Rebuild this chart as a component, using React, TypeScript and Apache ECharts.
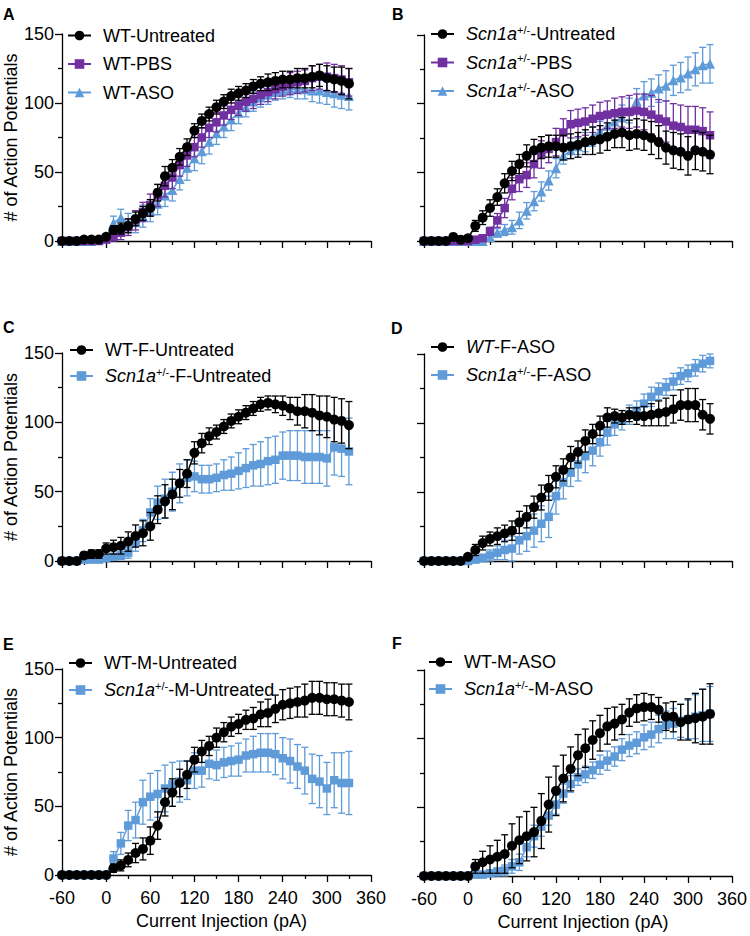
import React, { useEffect, useRef } from 'react';
import * as echarts from 'echarts';

// ---------- data ----------
const currents = [-60, -50, -40, -30, -20, -10, 0, 10, 20, 30, 40, 50, 60, 70, 80, 90, 100, 110, 120, 130, 140, 150, 160, 170, 180, 190, 200, 210, 220, 230, 240, 250, 260, 270, 280, 290, 300, 310, 320, 330];

// Panel A
const aWTUntreated = [0, 0, 0, 1, 1, 1, 3, 8, 9, 11, 16, 20, 24, 35, 47, 53, 61, 68, 80, 87, 92, 97, 101, 105, 107, 109, 112, 114, 115, 116, 117, 117, 118, 118, 119, 120, 118, 117, 116, 114];
const aWTUntreatedErr = [0, 0, 0, 0.5, 0.5, 1, 1, 3, 4, 5, 5, 5, 6, 6, 7, 6, 6, 6, 5, 5, 5, 5, 5, 5, 5, 5, 5, 5, 6, 6, 6, 6, 7, 7, 8, 8, 9, 9, 10, 11];
const aWTPBS = [0, 0, 0, 0, 0, 0, 1, 3, 6, 10, 15, 21, 26, 33, 40, 46, 55, 62, 68, 75, 82, 86, 91, 95, 98, 101, 103, 106, 108, 110, 112, 114, 115, 116, 118, 119, 119, 118, 117, 115];
const aWTPBSErr = [0, 0, 0, 0, 0, 0, 2, 3, 5, 6, 7, 7, 8, 8, 8, 8, 8, 8, 7, 7, 7, 7, 7, 7, 7, 7, 7, 7, 7, 7, 7, 8, 8, 8, 9, 9, 10, 10, 10, 10];
const aWTASO = [0, 0, 0, 0, 0, 1, 3, 13, 17, 13, 14, 18, 22, 27, 33, 37, 45, 53, 60, 65, 72, 78, 83, 88, 93, 97, 101, 104, 106, 108, 109, 110, 110, 110, 109, 109, 108, 107, 106, 105];
const aWTASOErr = [0, 0, 0, 0, 0, 1, 2, 5, 6, 7, 8, 8, 8, 8, 8, 8, 8, 9, 9, 9, 9, 8, 8, 8, 8, 7, 7, 7, 7, 6, 6, 6, 7, 7, 8, 9, 9, 10, 10, 10];

// Panel B
const bHetUntreated = [0, 0, 0, 0, 3, 1, 2, 11, 17, 24, 32, 42, 51, 56, 62, 66, 68, 69, 69, 68, 69, 70, 72, 73, 74, 76, 78, 79, 77, 78, 77, 75, 72, 68, 66, 65, 62, 66, 65, 63];
const bHetUntreatedErr = [0, 0, 0, 0, 2, 1, 2, 4, 5, 6, 6, 7, 7, 7, 8, 8, 8, 8, 8, 9, 9, 9, 9, 10, 10, 10, 10, 11, 11, 11, 11, 12, 12, 12, 13, 13, 14, 14, 14, 14];
const bHetPBS = [0, 0, 0, 0, 0, 0, 0, 1, 2, 7, 15, 24, 38, 45, 48, 56, 63, 67, 72, 79, 85, 86, 87, 89, 91, 92, 93, 94, 94, 95, 94, 92, 89, 87, 84, 83, 81, 81, 80, 77];
const bHetPBSErr = [0, 0, 0, 0, 0, 0, 0, 1, 1, 3, 5, 7, 8, 9, 9, 10, 10, 10, 10, 10, 10, 10, 10, 10, 10, 10, 11, 11, 12, 12, 13, 14, 14, 15, 16, 16, 17, 17, 17, 17];
const bHetASO = [0, 0, 0, 0, 0, 0, 0, 0, 0, 3, 6, 8, 10, 15, 22, 29, 36, 44, 53, 62, 66, 69, 72, 76, 80, 84, 87, 90, 95, 102, 106, 108, 111, 113, 117, 119, 122, 125, 128, 129];
const bHetASOErr = [0, 0, 0, 0, 0, 0, 0, 0, 0, 2, 3, 4, 5, 6, 6, 7, 7, 7, 7, 6, 6, 6, 7, 7, 7, 8, 8, 9, 9, 9, 10, 10, 10, 11, 11, 11, 12, 12, 13, 14];

// Panel C
const cWTFUntreated = [0, 0, 0, 4, 5, 5, 9, 10, 11, 14, 18, 20, 25, 37, 43, 48, 56, 63, 78, 85, 90, 93, 97, 101, 104, 107, 110, 113, 114, 113, 112, 110, 108, 108, 107, 105, 104, 102, 101, 98];
const cWTFUntreatedErr = [0, 0, 0, 2, 3, 3, 4, 5, 6, 7, 8, 9, 10, 10, 12, 11, 10, 10, 8, 7, 6, 5, 5, 5, 5, 5, 5, 5, 5, 6, 7, 8, 10, 12, 13, 14, 15, 16, 16, 17];
const cHetFUntreated = [0, 0, 0, 1, 1, 1, 2, 3, 4, 6, 13, 22, 35, 42, 45, 50, 56, 60, 61, 59, 59, 60, 62, 63, 65, 67, 69, 70, 72, 73, 76, 76, 76, 75, 75, 75, 74, 82, 81, 79];
const cHetFUntreatedErr = [0, 0, 0, 1, 1, 1, 2, 2, 3, 4, 6, 8, 10, 12, 14, 14, 14, 13, 11, 10, 10, 10, 11, 12, 13, 14, 15, 16, 17, 17, 17, 18, 18, 19, 19, 19, 20, 20, 20, 24];

// Panel D
const dWTFASO = [0, 0, 0, 0, 0, 0, 3, 8, 13, 16, 18, 20, 22, 28, 32, 39, 46, 53, 61, 66, 75, 79, 87, 92, 98, 104, 105, 104, 106, 105, 105, 106, 107, 108, 110, 113, 113, 113, 106, 103];
const dWTFASOErr = [0, 0, 0, 0, 0, 0, 2, 4, 5, 5, 6, 6, 7, 8, 8, 8, 9, 9, 8, 8, 8, 8, 8, 7, 7, 7, 5, 5, 5, 6, 7, 8, 9, 10, 10, 11, 12, 12, 11, 11];
const dHetFASO = [0, 0, 0, 0, 0, 0, 0, 1, 2, 4, 6, 8, 9, 15, 18, 22, 27, 32, 47, 57, 64, 70, 76, 80, 86, 93, 99, 102, 106, 109, 114, 119, 123, 126, 130, 134, 136, 140, 143, 145];
const dHetFASOErr = [0, 0, 0, 0, 0, 0, 1, 2, 3, 4, 5, 7, 9, 10, 11, 12, 13, 15, 13, 12, 10, 12, 12, 11, 10, 9, 8, 7, 7, 7, 7, 7, 6, 6, 6, 6, 6, 6, 6, 5];

// Panel E
const eWTMUntreated = [0, 0, 0, 0, 0, 0, 0, 5, 7, 11, 16, 19, 25, 36, 53, 60, 67, 73, 84, 90, 94, 100, 104, 108, 110, 113, 114, 117, 118, 121, 124, 125, 126, 127, 129, 129, 128, 128, 127, 126];
const eWTMUntreatedErr = [0, 0, 0, 0, 0, 0, 0, 3, 4, 5, 7, 8, 10, 10, 10, 10, 10, 10, 9, 8, 7, 7, 7, 7, 7, 7, 8, 9, 10, 10, 11, 11, 11, 12, 12, 12, 12, 12, 12, 13];
const eHetMUntreated = [0, 0, 0, 0, 0, 0, 0, 12, 23, 36, 40, 53, 57, 59, 63, 66, 68, 69, 76, 76, 81, 80, 82, 83, 84, 87, 88, 89, 89, 88, 85, 83, 79, 76, 70, 68, 63, 69, 67, 67];
const eHetMUntreatedErr = [0, 0, 0, 0, 0, 0, 0, 5, 8, 11, 13, 16, 17, 17, 17, 16, 15, 14, 13, 12, 11, 11, 11, 11, 12, 12, 13, 14, 14, 15, 15, 16, 16, 17, 18, 19, 19, 20, 22, 23];

// Panel F
const fWTMASO = [0, 0, 0, 0, 0, 0, 0, 7, 10, 12, 14, 16, 22, 26, 29, 32, 40, 52, 62, 71, 78, 88, 93, 99, 104, 109, 111, 114, 119, 122, 123, 123, 121, 116, 116, 112, 114, 115, 116, 118];
const fWTMASOErr = [0, 0, 0, 0, 0, 0, 0, 5, 8, 10, 12, 14, 16, 17, 18, 18, 20, 20, 18, 17, 16, 15, 14, 14, 13, 13, 12, 11, 10, 10, 10, 9, 9, 10, 11, 13, 15, 18, 20, 22];
const fHetMASO = [0, 0, 0, 0, 0, 0, 0, 1, 1, 2, 3, 4, 7, 10, 21, 29, 36, 44, 52, 60, 67, 72, 74, 77, 81, 84, 87, 92, 95, 97, 101, 103, 107, 110, 111, 113, 114, 116, 117, 118];
const fHetMASOErr = [0, 0, 0, 0, 0, 0, 0, 1, 2, 2, 3, 4, 5, 6, 7, 8, 7, 7, 7, 7, 6, 6, 6, 6, 7, 7, 7, 8, 8, 8, 9, 9, 10, 10, 11, 12, 14, 16, 19, 20];

// ---------- styles ----------
const BLACK = '#000000';
const PURPLE = '#7030A0';
const BLUE = '#5F9BD8';
const FONT = "'Liberation Sans', Arial, Helvetica, sans-serif";

const LABELS: Record<string, string> = {
  'WT-Untreated': 'WT-Untreated',
  'WT-PBS': 'WT-PBS',
  'WT-ASO': 'WT-ASO',
  'Scn1a-Untreated': '{i|Scn1a}{s|+/-}-Untreated',
  'Scn1a-PBS': '{i|Scn1a}{s|+/-}-PBS',
  'Scn1a-ASO': '{i|Scn1a}{s|+/-}-ASO',
  'WT-F-Untreated': 'WT-F-Untreated',
  'Scn1a-F-Untreated': '{i|Scn1a}{s|+/-}-F-Untreated',
  'WT-F-ASO': '{i|WT}-F-ASO',
  'Scn1a-F-ASO': '{i|Scn1a}{s|+/-}-F-ASO',
  'WT-M-Untreated': 'WT-M-Untreated',
  'Scn1a-M-Untreated': '{i|Scn1a}{s|+/-}-M-Untreated',
  'WT-M-ASO': 'WT-M-ASO',
  'Scn1a-M-ASO': '{i|Scn1a}{s|+/-}-M-ASO',
};

type S = { name: string; color: string; symbol: string; size: number; mean: number[]; err: number[] };
type P = {
  letter: string; letterX: number; letterY: number;
  left: number; top: number; width: number; height: number;
  yTitle: boolean; xTitle: boolean;
  legendLeft: number; legendTop: number; legendGap: number;
  series: S[];
};

const panels: P[] = [
  {
    letter: 'A', letterX: 3, letterY: 14, left: 62, top: 34, width: 309, height: 207, yTitle: true, xTitle: false,
    legendLeft: 67, legendTop: 25.5, legendGap: 8.5,
    series: [
      { name: 'WT-Untreated', color: BLACK, symbol: 'circle', size: 10, mean: aWTUntreated, err: aWTUntreatedErr },
      { name: 'WT-PBS', color: PURPLE, symbol: 'rect', size: 8.5, mean: aWTPBS, err: aWTPBSErr },
      { name: 'WT-ASO', color: BLUE, symbol: 'triangle', size: 10, mean: aWTASO, err: aWTASOErr },
    ],
  },
  {
    letter: 'B', letterX: 392, letterY: 14, left: 424, top: 35, width: 308, height: 206, yTitle: false, xTitle: false,
    legendLeft: 430, legendTop: 24, legendGap: 8.5,
    series: [
      { name: 'Scn1a-Untreated', color: BLACK, symbol: 'circle', size: 10, mean: bHetUntreated, err: bHetUntreatedErr },
      { name: 'Scn1a-PBS', color: PURPLE, symbol: 'rect', size: 8.5, mean: bHetPBS, err: bHetPBSErr },
      { name: 'Scn1a-ASO', color: BLUE, symbol: 'triangle', size: 10, mean: bHetASO, err: bHetASOErr },
    ],
  },
  {
    letter: 'C', letterX: 3, letterY: 327, left: 62, top: 353, width: 309, height: 208, yTitle: true, xTitle: false,
    legendLeft: 69, legendTop: 340, legendGap: 6,
    series: [
      { name: 'WT-F-Untreated', color: BLACK, symbol: 'circle', size: 10, mean: cWTFUntreated, err: cWTFUntreatedErr },
      { name: 'Scn1a-F-Untreated', color: BLUE, symbol: 'rect', size: 8.5, mean: cHetFUntreated, err: cHetFUntreatedErr },
    ],
  },
  {
    letter: 'D', letterX: 391, letterY: 328, left: 424, top: 354, width: 308, height: 207, yTitle: false, xTitle: false,
    legendLeft: 430, legendTop: 337, legendGap: 8,
    series: [
      { name: 'WT-F-ASO', color: BLACK, symbol: 'circle', size: 10, mean: dWTFASO, err: dWTFASOErr },
      { name: 'Scn1a-F-ASO', color: BLUE, symbol: 'rect', size: 8.5, mean: dHetFASO, err: dHetFASOErr },
    ],
  },
  {
    letter: 'E', letterX: 3, letterY: 644, left: 62, top: 669, width: 309, height: 206, yTitle: true, xTitle: true,
    legendLeft: 68, legendTop: 653, legendGap: 7,
    series: [
      { name: 'WT-M-Untreated', color: BLACK, symbol: 'circle', size: 10, mean: eWTMUntreated, err: eWTMUntreatedErr },
      { name: 'Scn1a-M-Untreated', color: BLUE, symbol: 'rect', size: 8.5, mean: eHetMUntreated, err: eHetMUntreatedErr },
    ],
  },
  {
    letter: 'F', letterX: 392, letterY: 643, left: 424, top: 670, width: 308, height: 206, yTitle: false, xTitle: true,
    legendLeft: 428, legendTop: 652, legendGap: 7,
    series: [
      { name: 'WT-M-ASO', color: BLACK, symbol: 'circle', size: 10, mean: fWTMASO, err: fWTMASOErr },
      { name: 'Scn1a-M-ASO', color: BLUE, symbol: 'rect', size: 8.5, mean: fHetMASO, err: fHetMASOErr },
    ],
  },
];

const errRender = (color: string) => (params: any, api: any) => {
  const x = api.value(0);
  const y = api.value(1);
  const e = api.value(2);
  if (!(e > 0)) return null;
  const top = api.coord([x, y + e]);
  const bot = api.coord([x, Math.max(0, y - e)]);
  const hw = 3.5;
  const style = { stroke: color, lineWidth: 1.3, fill: 'none' };
  return {
    type: 'group',
    children: [
      { type: 'line', shape: { x1: top[0], y1: top[1], x2: bot[0], y2: bot[1] }, style },
      { type: 'line', shape: { x1: top[0] - hw, y1: top[1], x2: top[0] + hw, y2: top[1] }, style },
      { type: 'line', shape: { x1: bot[0] - hw, y1: bot[1], x2: bot[0] + hw, y2: bot[1] }, style },
    ],
  };
};

function buildOption() {
  const axisLine = { lineStyle: { color: BLACK, width: 1.3 } };
  const axisTick = { show: true, length: 7, lineStyle: { color: BLACK, width: 1.3 } };
  const minorTick = { show: true, splitNumber: 2, length: 4, lineStyle: { color: BLACK, width: 1.3 } };
  const grid: any[] = [];
  const xAxis: any[] = [];
  const yAxis: any[] = [];
  const series: any[] = [];
  const legend: any[] = [];
  const graphic: any[] = [];

  panels.forEach((p, i) => {
    grid.push({ left: p.left, top: p.top, width: p.width, height: p.height, containLabel: false });
    xAxis.push({
      type: 'value', gridIndex: i, min: -60, max: 360, interval: 60,
      axisLine: { ...axisLine, onZero: false }, axisTick, minorTick,
      splitLine: { show: false }, minorSplitLine: { show: false },
      axisLabel: { show: p.xTitle, color: BLACK, fontSize: 18, fontFamily: FONT, margin: 14, showMinLabel: true, showMaxLabel: true },
      name: p.xTitle ? 'Current Injection (pA)' : '',
      nameLocation: 'middle', nameGap: 37,
      nameTextStyle: { color: BLACK, fontSize: 18, fontFamily: FONT, padding: [0, 0, 0, 10] },
    });
    yAxis.push({
      type: 'value', gridIndex: i, min: 0, max: 150, interval: 50,
      axisLine: { ...axisLine, show: true, onZero: false }, axisTick, minorTick,
      splitLine: { show: false }, minorSplitLine: { show: false },
      axisLabel: { show: p.yTitle, color: BLACK, fontSize: 18, fontFamily: FONT, margin: 8 },
      name: p.yTitle ? '# of Action Potentials' : '',
      nameLocation: 'middle', nameGap: 39,
      nameTextStyle: { color: BLACK, fontSize: 18, fontFamily: FONT },
    });
    const rev = p.series.slice().reverse();
    rev.forEach((s, k) => {
      const zb = 2 + k * 2;
      series.push({
        type: 'custom', name: s.name + ' (SEM)', xAxisIndex: i, yAxisIndex: i, silent: true, z: zb,
        data: currents.map((c, j) => [c, s.mean[j], s.err[j]]),
        encode: { x: 0, y: 1 },
        renderItem: errRender(s.color),
      });
      series.push({
        type: 'line', name: s.name, xAxisIndex: i, yAxisIndex: i, z: zb + 1,
        data: currents.map((c, j) => [c, s.mean[j]]),
        symbol: s.symbol, symbolSize: s.size, showAllSymbol: true,
        color: s.color,
        itemStyle: { color: s.color },
        lineStyle: { color: s.color, width: 1.5 },
        emphasis: { disabled: true },
        silent: true,
      });
    });
    legend.push({
      data: p.series.map((s) => s.name),
      orient: 'vertical', left: p.legendLeft, top: p.legendTop, itemGap: p.legendGap,
      itemWidth: 23, itemHeight: 12, padding: 0, selectedMode: false,
      formatter: (n: string) => LABELS[n] || n,
      textStyle: {
        color: BLACK, fontSize: 18, fontFamily: FONT, lineHeight: 20, padding: [0, 0, 0, 7],
        rich: {
          i: { fontStyle: 'italic', fontSize: 18, fontFamily: FONT, color: BLACK, lineHeight: 20 },
          s: { fontSize: 11, fontFamily: FONT, color: BLACK, lineHeight: 16, verticalAlign: 'top' },
        },
      },
    });
    graphic.push({
      type: 'text', x: p.letterX, y: p.letterY,
      style: { text: p.letter, fill: BLACK, font: `bold 16px ${FONT}`, verticalAlign: 'middle', align: 'left' },
    });
  });

  return {
    animation: false,
    backgroundColor: '#ffffff',
    textStyle: { fontFamily: FONT },
    grid, xAxis, yAxis, series, legend, graphic,
  };
}

export default function App() {
  const ref = useRef<HTMLDivElement>(null);
  useEffect(() => {
    document.body.style.margin = '0';
    if (!ref.current) return;
    const chart = echarts.init(ref.current, undefined, { renderer: 'svg' });
    chart.setOption(buildOption() as any);
    return () => chart.dispose();
  }, []);
  return <div ref={ref} style={{ position: 'absolute', left: 0, top: 0, width: 750, height: 936 }} />;
}
